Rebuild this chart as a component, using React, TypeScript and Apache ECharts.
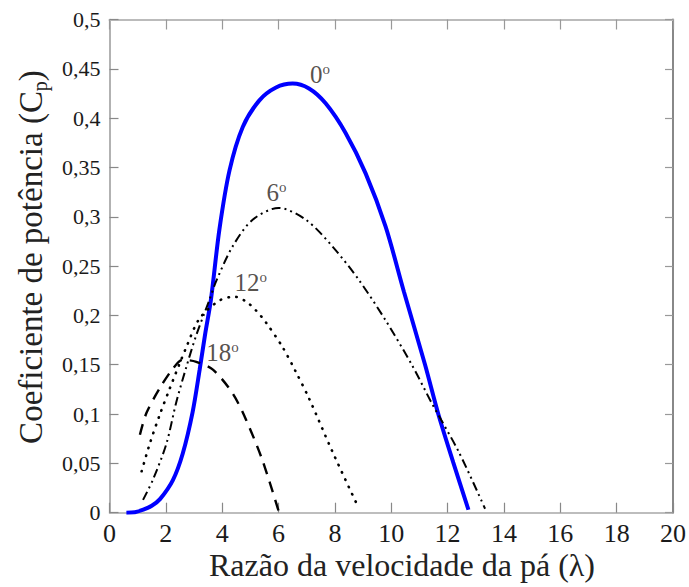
import React, { useEffect, useRef } from "react";
import * as echarts from "echarts";

// Power coefficient Cp vs tip speed ratio λ for pitch angles 0º, 6º, 12º, 18º
const pitchAngles = ["0", "6", "12", "18"];

const beta0: [number, number][] = [
  [0.6, 0], [0.9, 0.0005], [1.2, 0.003], [1.5, 0.007], [1.8, 0.014], [2.25, 0.033],
  [2.6, 0.06], [2.95, 0.102], [3.2, 0.145], [3.4, 0.182], [3.6, 0.216], [3.9, 0.287],
  [4.26, 0.347], [4.73, 0.391], [5.32, 0.418], [5.91, 0.431], [6.5, 0.435],
  [7.08, 0.43], [7.67, 0.415], [8.38, 0.385], [9.09, 0.344], [9.8, 0.29],
  [10.45, 0.224], [11.2, 0.15], [11.68, 0.099], [12.2, 0.051], [12.74, 0.003],
];

const beta6: [number, number][] = [
  [1.19, 0.013], [1.55, 0.034], [2.02, 0.07], [2.37, 0.112], [2.73, 0.148],
  [3.08, 0.18], [3.55, 0.216], [3.79, 0.235], [4.37, 0.27], [5.08, 0.297],
  [6.0, 0.309], [6.97, 0.297], [7.91, 0.27], [8.85, 0.236], [9.8, 0.195],
  [10.73, 0.15], [11.44, 0.111], [12.39, 0.062], [13.33, 0.004],
];

const beta12: [number, number][] = [
  [1.14, 0.042], [1.43, 0.07], [1.78, 0.099], [2.14, 0.126], [2.73, 0.168],
  [3.2, 0.197], [3.9, 0.215], [4.43, 0.219], [4.85, 0.214], [5.2, 0.205],
  [5.55, 0.193], [6.14, 0.168], [6.61, 0.143], [7.08, 0.116], [7.91, 0.062],
  [8.79, 0.008],
];

const beta18: [number, number][] = [
  [1.08, 0.079], [1.31, 0.101], [1.78, 0.126], [2.25, 0.146], [2.6, 0.155],
  [3.08, 0.153], [3.67, 0.145], [4.37, 0.121], [4.85, 0.094], [5.43, 0.053],
  [6.02, 0.0],
];

const labelPositions: [number, number][] = [
  [7.47, 0.444], [5.93, 0.325], [5.01, 0.233], [4.01, 0.162],
];

const xMin = 0, xMax = 20, xStep = 2;
const yMin = 0, yMax = 0.5, yStep = 0.05;

const serif = "Liberation Serif";

export default function App() {
  const ref = useRef<HTMLDivElement>(null);

  useEffect(() => {
    document.body.style.margin = "0";
    if (!ref.current) return;
    const chart = echarts.init(ref.current, undefined, { renderer: "svg" });
    const fmtY = (v: number) => String(parseFloat(v.toFixed(2))).replace(".", ",");
    const fmtX = (v: number) => String(v);

    const baseX = {
      type: "value" as const,
      min: xMin,
      max: xMax,
      interval: xStep,
      splitLine: { show: false },
    };
    const baseY = {
      type: "value" as const,
      min: yMin,
      max: yMax,
      interval: yStep,
      splitLine: { show: false },
    };

    chart.setOption({
      animation: false,
      backgroundColor: "#ffffff",
      textStyle: { fontFamily: serif },
      grid: { left: 109.5, right: 13, top: 19.5, bottom: 74.3 },
      xAxis: [
        {
          ...baseX,
          position: "bottom",
          axisLine: { show: true, onZero: false, lineStyle: { color: "#a8a8a8", width: 1.5 } },
          axisTick: { show: true, inside: true, length: 10, lineStyle: { color: "#888", width: 1.2 } },
          axisLabel: {
            show: true,
            margin: 8,
            formatter: fmtX,
            fontSize: 26,
            color: "#1a1a1a",
            fontFamily: serif,
          },
        },
        {
          ...baseX,
          position: "top",
          axisLine: { show: true, onZero: false, lineStyle: { color: "#bbbbbb", width: 2 } },
          axisTick: { show: true, inside: true, length: 10, lineStyle: { color: "#999", width: 1.2 } },
          axisLabel: { show: false },
        },
      ],
      yAxis: [
        {
          ...baseY,
          position: "left",
          axisLine: { show: true, onZero: false, lineStyle: { color: "#999999", width: 1.5 } },
          axisTick: { show: true, inside: true, length: 9, lineStyle: { color: "#888", width: 1.2 } },
          axisLabel: {
            show: true,
            margin: 9,
            formatter: fmtY,
            fontSize: 22,
            color: "#1a1a1a",
            fontFamily: serif,
          },
        },
        {
          ...baseY,
          position: "right",
          axisLine: { show: true, onZero: false, lineStyle: { color: "#888888", width: 2 } },
          axisTick: { show: true, inside: true, length: 8, lineStyle: { color: "#999", width: 1.2 } },
          axisLabel: { show: false },
        },
      ],
      series: [
        {
          name: "0º",
          type: "line",
          data: beta0,
          showSymbol: false,
          smooth: 0.3,
          lineStyle: { color: "#0000ff", width: 4 },
          z: 2,
        },
        {
          name: "6º",
          type: "line",
          data: beta6,
          showSymbol: false,
          smooth: 0.3,
          lineStyle: { color: "#000000", width: 2, type: [9, 4, 2, 4, 2, 4] },
          z: 3,
        },
        {
          name: "12º",
          type: "line",
          data: beta12,
          showSymbol: false,
          smooth: 0.3,
          lineStyle: { color: "#000000", width: 2.6, type: [0.5, 7.5], cap: "round" },
          z: 3,
        },
        {
          name: "18º",
          type: "line",
          data: beta18,
          showSymbol: false,
          smooth: 0.3,
          lineStyle: { color: "#000000", width: 2.4, type: [11, 8] },
          z: 3,
        },
        {
          name: "labels",
          type: "scatter",
          data: labelPositions,
          symbolSize: 0,
          silent: true,
          z: 5,
          label: {
            show: true,
            position: "inside",
            formatter: (p: any) => `{n|${pitchAngles[p.dataIndex]}}{s|o}`,
            rich: {
              n: { fontSize: 25, lineHeight: 26, fontFamily: serif, color: "#2a241c" },
              s: { fontSize: 15, lineHeight: 15, verticalAlign: "top", fontFamily: serif, color: "#2a241c" },
            },
          },
        },
      ],
      graphic: [
        {
          type: "text",
          x: 402,
          y: 565,
          style: {
            text: "Razão da velocidade da pá (λ)",
            fontSize: 32,
            fontFamily: serif,
            fill: "#222222",
            align: "center",
            verticalAlign: "middle",
          },
        },
        {
          type: "text",
          x: 31,
          y: 257,
          rotation: Math.PI / 2,
          style: {
            text: "{m|Coeficiente de potência (C}{s|p}{m|)}",
            fill: "#222222",
            align: "center",
            verticalAlign: "middle",
            rich: {
              m: { fontSize: 33, lineHeight: 38, fontFamily: serif, fill: "#222222" },
              s: { fontSize: 20, lineHeight: 20, verticalAlign: "bottom", fontFamily: serif, fill: "#222222" },
            },
          },
        },
      ],
    });

    return () => chart.dispose();
  }, []);

  return <div ref={ref} style={{ width: 689, height: 587 }} />;
}
